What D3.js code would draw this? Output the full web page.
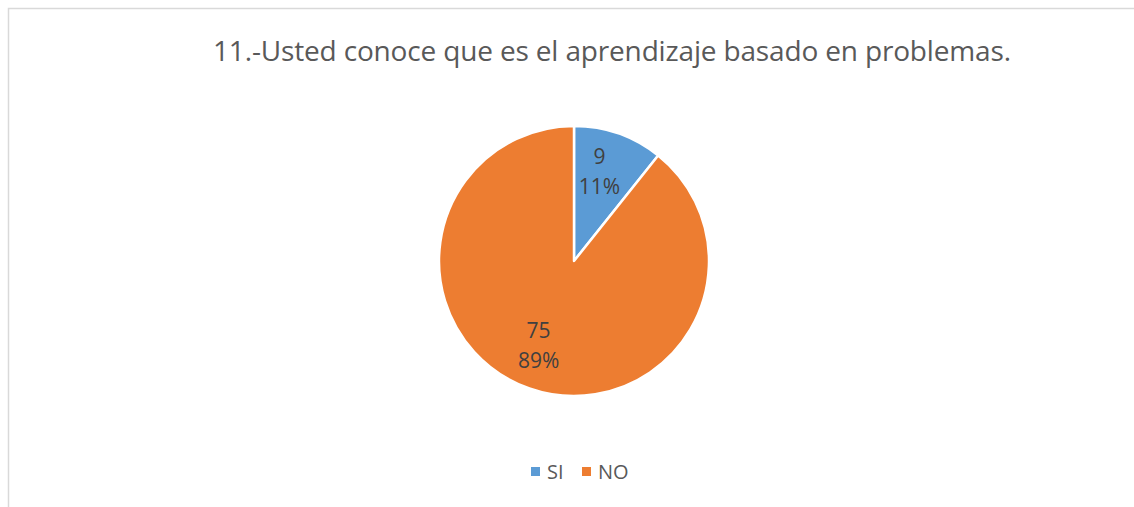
<!DOCTYPE html>
<html>
<head>
<meta charset="utf-8">
<script src="https://cdn.jsdelivr.net/npm/d3@7"></script>
<style>
  body { margin: 0; background: #fff; }
  svg { display: block; }
  text { font-family: "Open Sans", "Noto Sans", sans-serif; fill: #595959; }
</style>
</head>
<body>
<svg id="chart"></svg>
<script>
var categories = ["SI", "NO"];
var values = [9, 75];
var percents = ["11%", "89%"];
var title = "11.-Usted conoce que es el aprendizaje basado en problemas.";

var width = 1134, height = 507;
var svg = d3.select("#chart").attr("width", width).attr("height", height);

// chart area border (cropped at right and bottom)
svg.append("path")
    .attr("d", "M8.5," + height + "V8.5H" + width)
    .attr("fill", "none")
    .attr("stroke", "#d9d9d9")
    .attr("stroke-width", 1.5);

svg.append("text")
    .attr("x", 612)
    .attr("y", 61)
    .attr("text-anchor", "middle")
    .attr("font-size", "28px")
    .attr("textLength", 798)
    .text(title);

var color = d3.scaleOrdinal().domain(categories).range(["#5b9bd5", "#ed7d31"]);
var radius = 135;
var g = svg.append("g").attr("transform", "translate(574,261)");

var pie = d3.pie().sort(null).value(function(d, i) { return values[i]; });
var arcs = pie(categories);
var arc = d3.arc().innerRadius(0).outerRadius(radius);
var labelArc = d3.arc().innerRadius(92).outerRadius(92);

g.selectAll("path.slice")
    .data(arcs)
  .enter().append("path")
    .attr("class", "slice")
    .attr("d", arc)
    .attr("fill", function(d) { return color(d.data); })
    .attr("stroke", "#fff")
    .attr("stroke-width", 2.5)
    .attr("stroke-linejoin", "round");

var lbl = g.selectAll("text.lbl")
    .data(arcs)
  .enter().append("text")
    .attr("class", "lbl")
    .attr("text-anchor", "middle")
    .attr("font-size", "21px")
    .style("fill", "#404040")
    .attr("transform", function(d) { var c = labelArc.centroid(d); return "translate(" + (c[0] - 5) + "," + c[1] + ")"; });
lbl.append("tspan").attr("x", 0).attr("y", -10).text(function(d) { return values[d.index]; });
lbl.append("tspan").attr("x", 0).attr("y", 20).text(function(d) { return percents[d.index]; });

// legend
var legendX = [531, 582];
var legend = svg.selectAll("g.legend")
    .data(categories)
  .enter().append("g")
    .attr("class", "legend")
    .attr("transform", function(d, i) { return "translate(" + legendX[i] + ",467)"; });
legend.append("rect")
    .attr("width", 9)
    .attr("height", 9)
    .attr("fill", function(d) { return color(d); });
legend.append("text")
    .attr("x", 16)
    .attr("y", 12)
    .attr("font-size", "20px")
    .text(function(d) { return d; });
</script>
</body>
</html>
